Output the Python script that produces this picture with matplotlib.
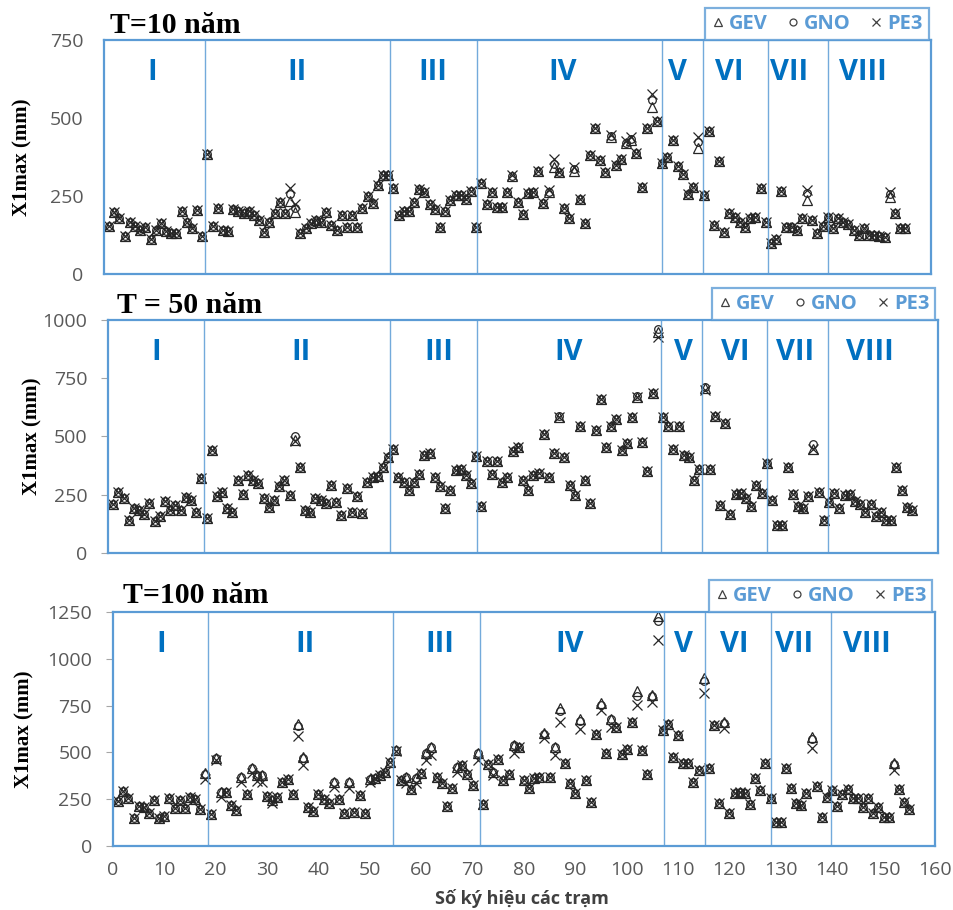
import numpy as np
import matplotlib
matplotlib.use("Agg")
import matplotlib.pyplot as plt
from matplotlib.lines import Line2D

# station numbers (x axis)
stations = np.arange(1, 156)

# T = 10 years
t10_gev = [154, 200, 178, 122, 168, 154, 141, 152, 111, 141,
           164, 138, 130, 130, 203, 168, 146, 205, 120, 383,
           154, 210, 141, 138, 207, 203, 196, 203, 189, 173,
           136, 168, 194, 230, 194, 235, 200, 130, 146, 164,
           173, 168, 200, 157, 141, 189, 152, 189, 152, 210,
           250, 226, 285, 317, 317, 277, 189, 203, 203, 232,
           271, 264, 224, 207, 152, 203, 237, 253, 253, 240,
           267, 152, 293, 224, 264, 214, 214, 264, 314, 232,
           191, 258, 264, 331, 226, 264, 344, 326, 210, 178,
           331, 239, 164, 381, 467, 365, 328, 440, 349, 370,
           419, 429, 387, 278, 467, 536, 491, 355, 376, 429,
           346, 322, 255, 280, 403, 253, 458, 157, 363, 136,
           194, 184, 168, 152, 178, 184, 274, 168, 98, 111,
           267, 152, 152, 141, 178, 237, 173, 130, 154, 184,
           146, 178, 168, 160, 141, 125, 146, 125, 125, 120,
           117, 248, 196, 146, 146]
t10_gno = [154, 200, 178, 122, 168, 154, 141, 152, 111, 141,
           164, 138, 130, 130, 203, 168, 146, 205, 120, 385,
           154, 210, 141, 138, 207, 203, 196, 203, 189, 173,
           136, 168, 194, 230, 194, 255, 210, 130, 146, 164,
           173, 168, 200, 157, 141, 189, 152, 189, 152, 210,
           250, 226, 285, 317, 317, 277, 189, 203, 203, 232,
           271, 264, 224, 207, 152, 203, 237, 253, 253, 240,
           267, 152, 293, 224, 264, 214, 214, 264, 314, 232,
           191, 258, 264, 331, 226, 264, 352, 326, 210, 178,
           337, 239, 164, 381, 467, 365, 328, 442, 349, 370,
           421, 433, 387, 278, 467, 557, 491, 355, 376, 429,
           346, 322, 255, 280, 424, 253, 458, 157, 363, 136,
           194, 184, 168, 152, 178, 184, 274, 168, 98, 111,
           267, 152, 152, 141, 178, 258, 173, 130, 154, 184,
           146, 178, 168, 160, 141, 125, 146, 125, 125, 120,
           117, 256, 196, 146, 146]
t10_pe3 = [154, 200, 178, 122, 168, 154, 141, 152, 111, 141,
           164, 138, 130, 130, 203, 168, 146, 205, 120, 385,
           154, 210, 141, 138, 207, 203, 196, 203, 189, 173,
           136, 168, 194, 230, 194, 275, 224, 130, 146, 164,
           173, 168, 200, 157, 141, 189, 152, 189, 152, 210,
           250, 226, 285, 317, 317, 277, 189, 203, 203, 232,
           271, 264, 224, 207, 152, 203, 237, 253, 253, 240,
           267, 152, 293, 224, 264, 214, 214, 264, 318, 232,
           191, 258, 264, 331, 226, 270, 370, 326, 210, 178,
           344, 239, 164, 381, 467, 365, 328, 445, 349, 370,
           425, 440, 387, 278, 467, 577, 491, 355, 376, 429,
           346, 322, 255, 280, 440, 253, 458, 157, 363, 136,
           194, 184, 168, 152, 178, 184, 274, 168, 98, 111,
           267, 152, 152, 141, 178, 269, 173, 130, 154, 184,
           146, 178, 168, 160, 141, 125, 146, 125, 125, 120,
           117, 264, 196, 146, 146]

# T = 50 years
t50_gev = [209, 262, 234, 140, 191, 183, 169, 215, 138, 158,
           223, 183, 205, 183, 241, 226, 176, 320, 152, 444,
           244, 262, 195, 176, 315, 252, 334, 312, 301, 234,
           198, 226, 287, 315, 248, 484, 367, 183, 176, 234,
           226, 215, 291, 219, 162, 281, 176, 244, 172, 305,
           327, 330, 370, 413, 448, 327, 305, 272, 305, 337,
           420, 427, 324, 287, 191, 272, 355, 362, 334, 301,
           415, 200, 394, 338, 394, 305, 327, 438, 455, 312,
           272, 334, 344, 510, 324, 430, 584, 413, 291, 248,
           544, 312, 215, 527, 659, 453, 544, 577, 444, 473,
           584, 670, 477, 352, 685, 950, 582, 544, 448, 544,
           420, 410, 312, 362, 706, 362, 587, 205, 556, 169,
           255, 258, 238, 200, 291, 258, 387, 226, 119, 119,
           370, 252, 200, 191, 244, 448, 262, 143, 219, 258,
           191, 248, 252, 223, 209, 176, 212, 158, 176, 140,
           143, 370, 269, 198, 183]
t50_gno = [209, 262, 234, 140, 191, 183, 169, 215, 138, 158,
           223, 183, 205, 183, 241, 226, 176, 320, 152, 444,
           244, 262, 195, 176, 315, 252, 334, 312, 301, 234,
           198, 226, 287, 315, 248, 501, 367, 183, 176, 234,
           226, 215, 291, 219, 162, 281, 176, 244, 172, 305,
           327, 330, 370, 413, 448, 327, 305, 272, 305, 337,
           420, 427, 324, 287, 191, 272, 355, 362, 334, 301,
           415, 200, 394, 338, 394, 305, 327, 438, 455, 312,
           272, 334, 344, 510, 324, 430, 588, 413, 291, 248,
           544, 312, 215, 527, 659, 453, 544, 577, 444, 473,
           584, 675, 477, 352, 685, 962, 582, 544, 448, 544,
           420, 410, 312, 362, 712, 362, 587, 205, 556, 169,
           255, 258, 238, 200, 291, 258, 387, 226, 119, 119,
           370, 252, 200, 191, 244, 467, 262, 143, 219, 258,
           191, 248, 252, 223, 209, 176, 212, 158, 176, 140,
           143, 370, 269, 198, 183]
t50_pe3 = [209, 262, 234, 140, 191, 183, 169, 215, 138, 158,
           223, 183, 205, 183, 241, 226, 176, 320, 152, 444,
           244, 262, 195, 176, 315, 252, 334, 312, 301, 234,
           198, 226, 287, 315, 248, 482, 367, 183, 176, 234,
           226, 215, 291, 219, 162, 281, 176, 244, 172, 305,
           327, 330, 370, 413, 448, 327, 305, 272, 305, 337,
           420, 427, 324, 287, 191, 272, 355, 362, 334, 301,
           415, 200, 394, 338, 394, 305, 327, 438, 455, 312,
           272, 334, 344, 510, 324, 430, 584, 413, 291, 248,
           544, 312, 215, 527, 659, 453, 544, 577, 444, 473,
           584, 670, 477, 352, 685, 928, 582, 544, 448, 544,
           420, 410, 312, 362, 700, 362, 587, 205, 556, 169,
           255, 258, 238, 200, 291, 258, 387, 226, 119, 119,
           370, 252, 200, 191, 244, 446, 262, 143, 219, 258,
           191, 248, 252, 223, 209, 176, 212, 158, 176, 140,
           143, 370, 269, 198, 183]

# T = 100 years
t100_gev = [242, 296, 255, 148, 214, 207, 178, 246, 148, 160,
            255, 201, 246, 201, 260, 250, 196, 389, 171, 469,
            291, 291, 219, 193, 371, 278, 415, 380, 380, 267,
            246, 260, 344, 357, 278, 653, 478, 207, 189, 278,
            250, 232, 344, 250, 175, 344, 184, 273, 178, 357,
            362, 380, 398, 451, 514, 353, 371, 303, 362, 392,
            499, 531, 371, 335, 214, 308, 424, 433, 385, 326,
            496, 225, 439, 398, 464, 350, 385, 540, 531, 350,
            308, 362, 371, 606, 371, 531, 736, 446, 335, 285,
            678, 350, 237, 599, 763, 496, 678, 638, 492, 517,
            660, 826, 514, 385, 808, 1227, 620, 653, 474, 594,
            446, 442, 344, 406, 897, 415, 647, 228, 665, 178,
            282, 291, 282, 225, 362, 300, 446, 255, 130, 130,
            415, 308, 232, 219, 282, 581, 321, 157, 264, 300,
            214, 278, 303, 255, 255, 207, 255, 175, 207, 153,
            153, 442, 303, 237, 196]
t100_gno = [242, 296, 255, 148, 214, 207, 178, 246, 148, 160,
            255, 201, 246, 201, 260, 250, 196, 385, 171, 469,
            291, 291, 219, 193, 371, 278, 415, 380, 380, 267,
            246, 260, 344, 357, 278, 640, 472, 207, 189, 278,
            250, 232, 344, 250, 175, 344, 184, 273, 178, 357,
            362, 380, 398, 451, 514, 353, 371, 303, 362, 392,
            499, 531, 371, 335, 214, 308, 424, 433, 385, 326,
            496, 225, 439, 398, 464, 350, 385, 540, 531, 350,
            308, 362, 371, 600, 371, 531, 719, 446, 335, 285,
            670, 350, 237, 599, 755, 496, 678, 638, 492, 517,
            660, 802, 514, 385, 800, 1200, 620, 653, 474, 594,
            446, 442, 344, 406, 880, 415, 647, 228, 655, 178,
            282, 291, 282, 225, 362, 300, 446, 255, 130, 130,
            415, 308, 232, 219, 282, 570, 321, 157, 264, 300,
            214, 278, 303, 255, 255, 207, 255, 175, 207, 153,
            153, 436, 303, 237, 196]
t100_pe3 = [242, 296, 255, 148, 214, 207, 178, 246, 148, 160,
            255, 201, 246, 201, 260, 250, 196, 357, 171, 460,
            264, 291, 219, 193, 344, 278, 389, 349, 344, 267,
            228, 260, 344, 357, 278, 588, 433, 207, 189, 278,
            250, 232, 317, 250, 175, 308, 184, 273, 178, 340,
            362, 380, 398, 451, 505, 353, 335, 303, 335, 392,
            460, 487, 371, 335, 214, 308, 398, 433, 385, 326,
            460, 225, 439, 380, 464, 350, 385, 496, 531, 350,
            308, 362, 371, 576, 371, 487, 665, 446, 335, 285,
            624, 350, 237, 599, 727, 496, 638, 638, 492, 517,
            660, 754, 514, 385, 767, 1098, 620, 653, 474, 594,
            446, 442, 344, 406, 817, 415, 647, 228, 629, 178,
            282, 291, 282, 225, 362, 300, 446, 255, 130, 130,
            415, 308, 232, 219, 282, 522, 321, 157, 264, 300,
            214, 278, 303, 255, 255, 207, 255, 175, 207, 153,
            153, 406, 303, 237, 196]

regions = ["I", "II", "III", "IV", "V", "VI", "VII", "VIII"]
region_x = [9.3, 37.3, 63.7, 88.8, 111, 120.9, 132.5, 146.8]

BLUE_FRAME = "#5B9BD5"
BLUE_TEXT = "#0070C0"
GREY = "#595959"
MARK = "#262626"


def plot_panel(fig, rect, gev, gno, pe3, ymax, title, title_xy, ylabel_x, dividers, tick_len, show_x):
    ax = fig.add_axes(rect)
    ax.plot(stations, gev, ls="none", marker="^", ms=6.5, mfc="none", mec=MARK, mew=0.9)
    ax.plot(stations, gno, ls="none", marker="o", ms=5.5, mfc="none", mec=MARK, mew=0.9)
    ax.plot(stations, pe3, ls="none", marker="x", ms=6.5, mec=MARK, mew=0.9)

    for d in dividers:
        ax.axvline(d, color=BLUE_FRAME, lw=1.0, alpha=0.85)
    for name, x in zip(regions, region_x):
        ax.text(x, 0.86, name, transform=ax.get_xaxis_transform(), ha="center", va="center",
                color=BLUE_TEXT, fontsize=21, fontweight="bold", family="Open Sans")

    ax.set_xlim(0, 160)
    ax.set_ylim(0, ymax)
    ax.set_yticks(np.arange(0, ymax + 1, 250))
    for s in ax.spines.values():
        s.set_color(BLUE_FRAME)
        s.set_linewidth(1.6)
    ax.tick_params(axis="y", length=tick_len, color="#A6A6A6", pad=15 - tick_len,
                   labelsize=14, labelcolor=GREY)
    for lab in ax.get_yticklabels():
        lab.set_family("Open Sans")
    if show_x:
        ax.set_xticks(np.arange(0, 161, 10))
        ax.tick_params(axis="x", length=0, pad=11, labelsize=14, labelcolor=GREY)
        for lab in ax.get_xticklabels():
            lab.set_family("Open Sans")
    else:
        ax.set_xticks([])

    handles = [Line2D([], [], ls="none", marker="^", ms=5.5, mfc="none", mec="#404040", mew=0.9),
               Line2D([], [], ls="none", marker="o", ms=5, mfc="none", mec="#404040", mew=0.9),
               Line2D([], [], ls="none", marker="x", ms=6, mec="#404040", mew=0.9)]
    leg = ax.legend(handles, ["GEV", "GNO", "PE3"], ncol=3, loc="lower right",
                    bbox_to_anchor=(0.997, 1.0), borderaxespad=0, fancybox=False,
                    handlelength=0.7, handletextpad=0.2, columnspacing=0.9, borderpad=0.3,
                    labelcolor=BLUE_FRAME, prop={"family": "Open Sans", "weight": "bold", "size": 14.5})
    leg.get_frame().set_edgecolor(BLUE_FRAME)
    leg.get_frame().set_linewidth(1.6)

    fig.text(title_xy[0] / 954, 1 - title_xy[1] / 910, title, ha="left", va="baseline",
             fontsize=21.5, fontweight="bold", family="Liberation Serif")
    y_mid = rect[1] + rect[3] / 2
    fig.text(ylabel_x / 954, y_mid, "X1max (mm)", rotation=90, ha="center", va="center",
             fontsize=15, fontweight="bold", family="Liberation Serif")
    return ax


fig = plt.figure(figsize=(9.54, 9.10), dpi=100)

plot_panel(fig, [0.109, 0.699, 0.867, 0.257], t10_gev, t10_gno, t10_pe3, 750,
           "T=10 năm", (110, 33), 22, [19.5, 55.3, 72.2, 107.9, 115.9, 128.4, 140.1], 0, False)
plot_panel(fig, [0.1132, 0.3923, 0.870, 0.2561], t50_gev, t50_gno, t50_pe3, 1000,
           "T = 50 năm", (117, 313), 32, [18.6, 54.3, 71.1, 106.7, 114.6, 127.1, 138.8], 5, False)
plot_panel(fig, [0.1184, 0.0703, 0.8616, 0.2572], t100_gev, t100_gno, t100_pe3, 1250,
           "T=100 năm", (123, 603), 24, [18.5, 54.5, 71.4, 107.2, 115.3, 128.1, 139.7], 5, True)

fig.text(522 / 954, 1 - 898 / 910, "Số ký hiệu các trạm", ha="center", va="center",
         fontsize=13, fontweight="bold", family="Open Sans", color="#404040")

fig.savefig("out.png", dpi=100)
